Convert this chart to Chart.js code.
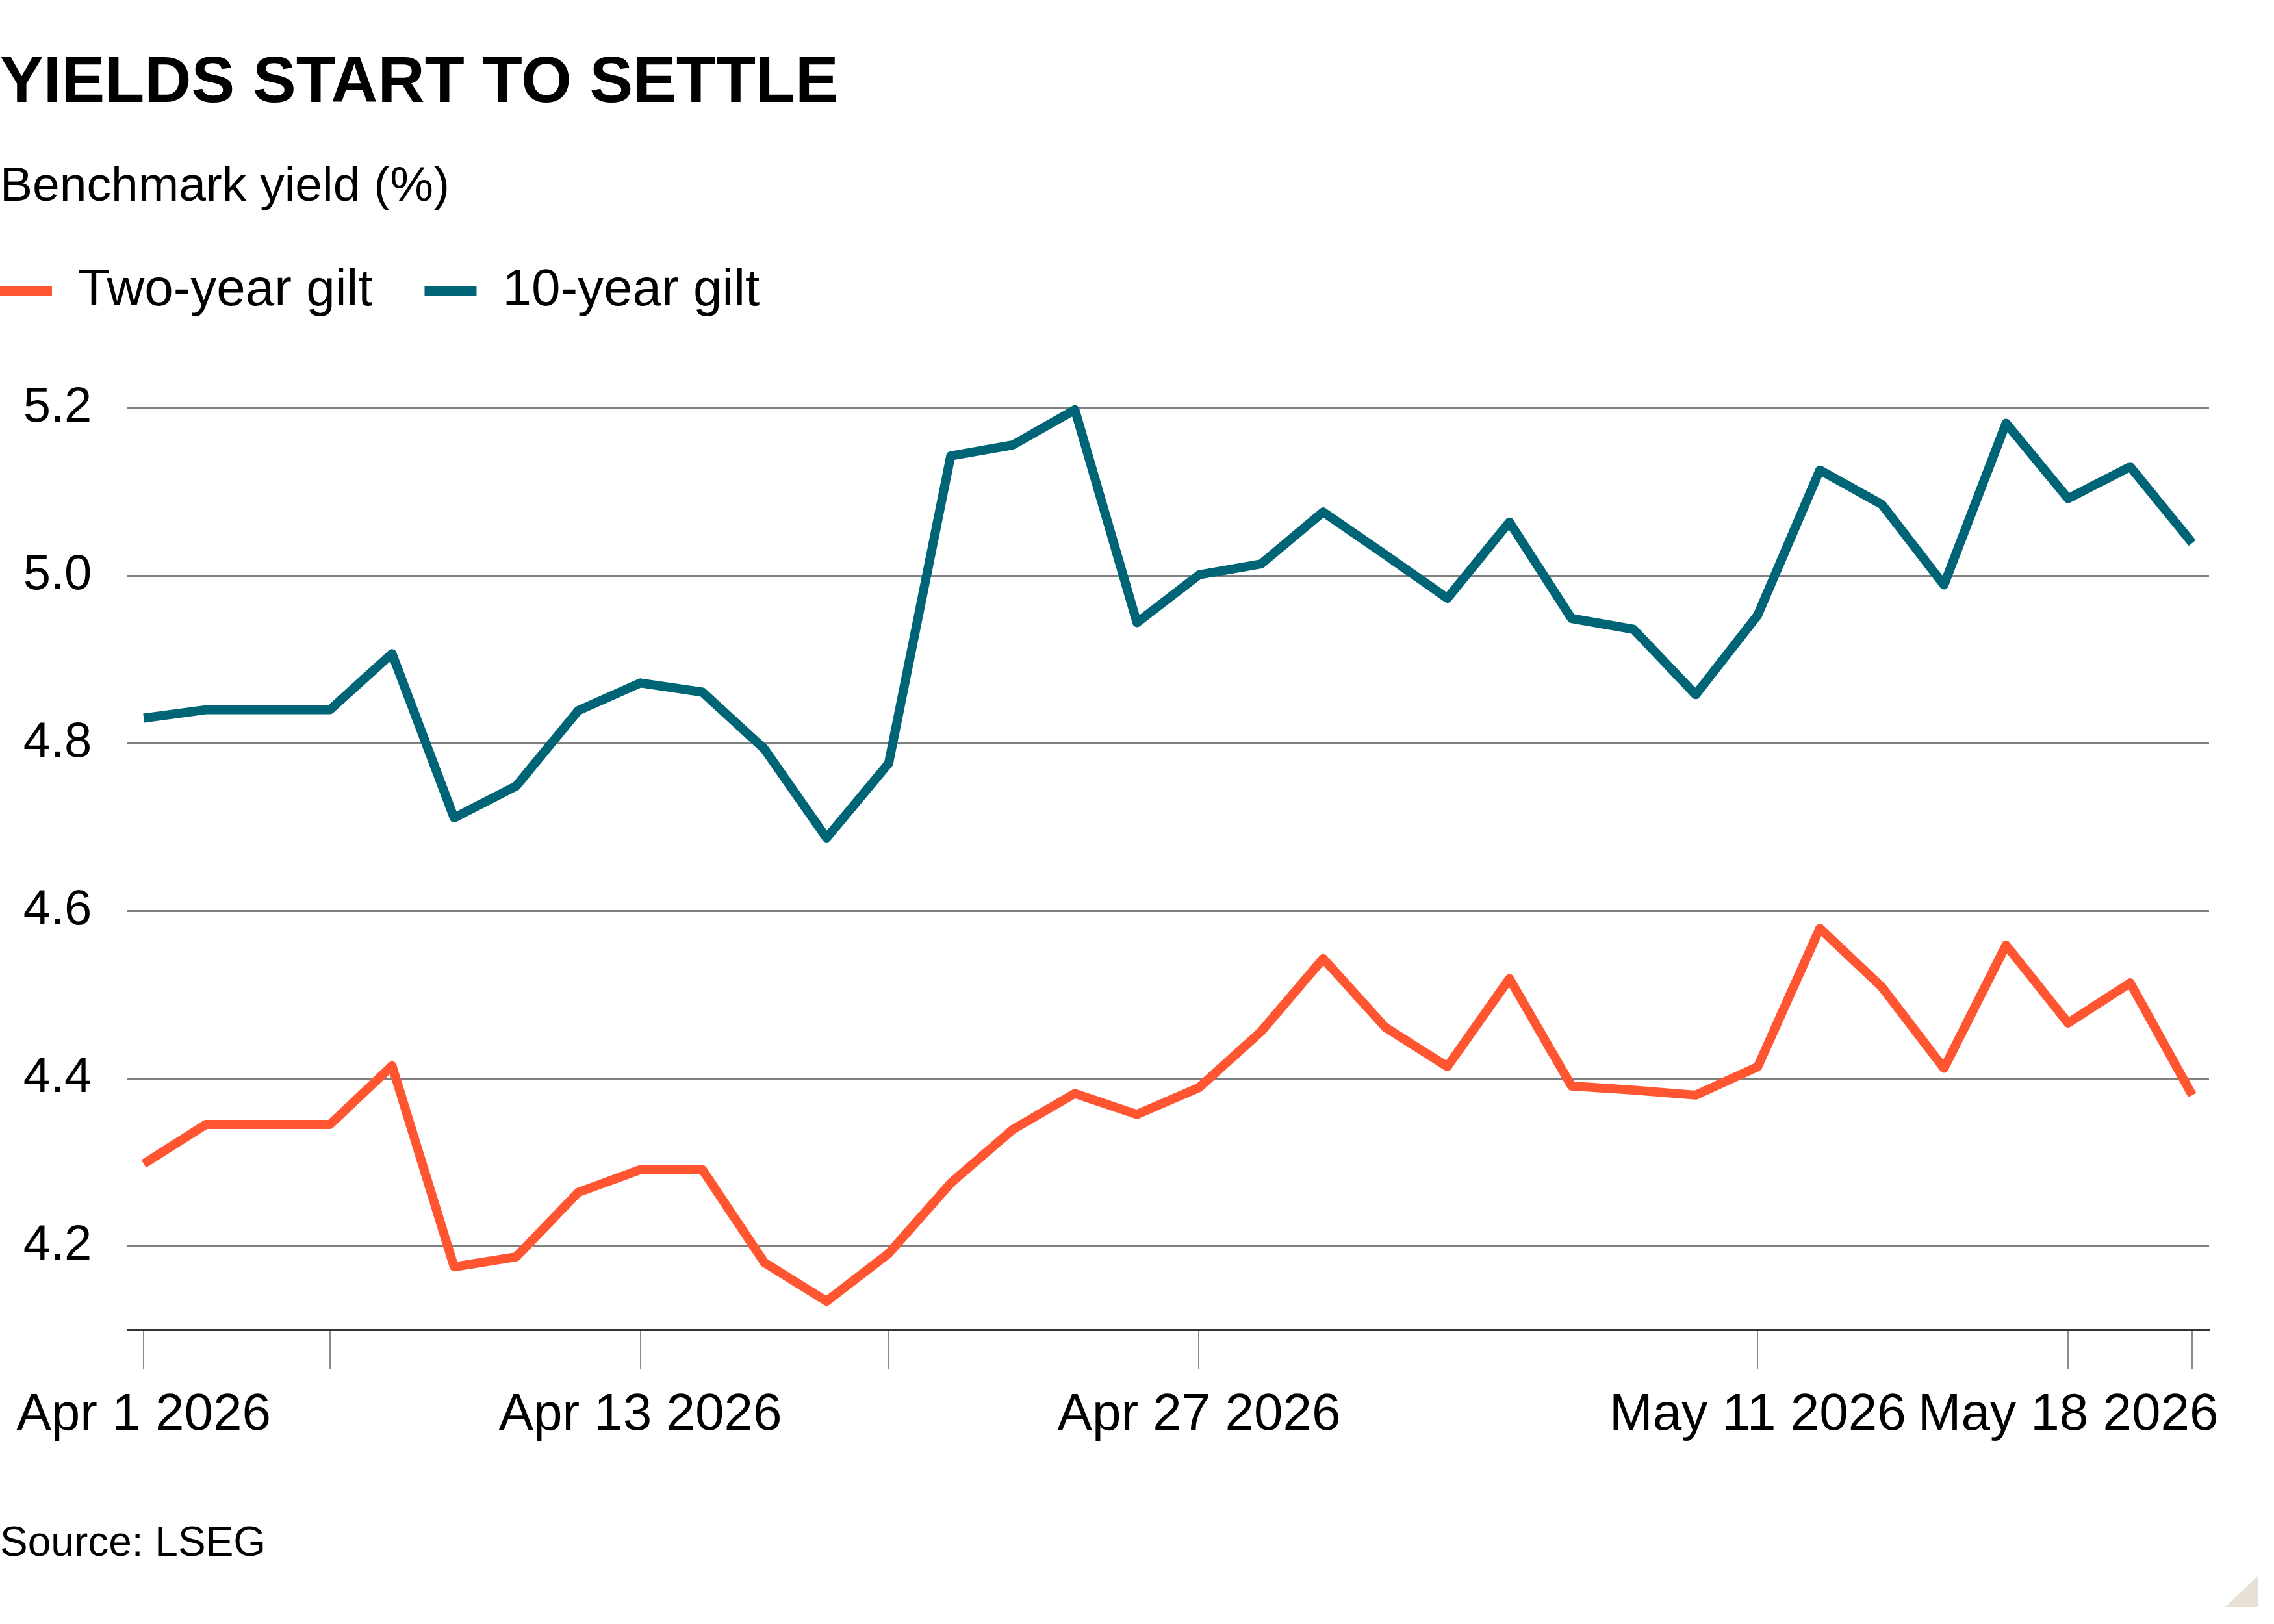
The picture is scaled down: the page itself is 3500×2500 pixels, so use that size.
<!DOCTYPE html>
<html>
<head>
<meta charset="utf-8">
<title>Yields start to settle</title>
<script src="https://cdn.jsdelivr.net/npm/chart.js@4.4.1/dist/chart.umd.min.js"></script>
<style>
  html, body { margin: 0; padding: 0; background: #fff; }
  #wrap { position: relative; width: 3500px; height: 2500px; }
  #source {
    position: absolute; left: 0; top: 2341px;
    font-family: "Liberation Sans", Arial, sans-serif; font-size: 64px; line-height: 1; color: #000;
  }
  #corner {
    position: absolute; left: 3425px; top: 2426px; width: 50px; height: 48px;
    background: #e8dfd5; clip-path: polygon(0 100%, 100% 100%, 100% 0);
  }
</style>
</head>
<body>
<div id="wrap">
  <canvas id="chartYields"></canvas>
  <div id="source">Source: LSEG</div>
  <div id="corner"></div>
</div>
<script>
// trading days shown on the x axis
const dates = [
  "Apr 1 2026", "Apr 2 2026", "Apr 3 2026", "Apr 6 2026", "Apr 7 2026", "Apr 8 2026",
  "Apr 9 2026", "Apr 10 2026", "Apr 13 2026", "Apr 14 2026", "Apr 15 2026", "Apr 16 2026",
  "Apr 20 2026", "Apr 21 2026", "Apr 22 2026", "Apr 23 2026", "Apr 24 2026", "Apr 27 2026",
  "Apr 28 2026", "Apr 29 2026", "Apr 30 2026", "May 1 2026", "May 5 2026", "May 6 2026",
  "May 7 2026", "May 8 2026", "May 11 2026", "May 12 2026", "May 13 2026", "May 14 2026",
  "May 15 2026", "May 18 2026", "May 19 2026", "May 20 2026"
];

const twoYear = [
  4.298, 4.345, 4.345, 4.345, 4.415, 4.175, 4.187, 4.264, 4.291, 4.291, 4.180, 4.134,
  4.191, 4.275, 4.339, 4.382, 4.357, 4.389, 4.456, 4.543, 4.461, 4.414, 4.519,
  4.391, 4.386, 4.380, 4.414, 4.579, 4.509, 4.412, 4.559, 4.466, 4.514, 4.380
];

const tenYear = [
  4.830, 4.840, 4.840, 4.840, 4.907, 4.711, 4.749, 4.839, 4.872, 4.861, 4.793, 4.687,
  4.776, 5.143, 5.156, 5.198, 4.944, 5.001, 5.014, 5.076, 5.025, 4.973, 5.064,
  4.949, 4.936, 4.858, 4.953, 5.126, 5.085, 4.989, 5.182, 5.092, 5.130, 5.039
];

// tick marks on the x axis, and the ones that get a label
const tickDates = ["Apr 1 2026", "Apr 6 2026", "Apr 13 2026", "Apr 20 2026", "Apr 27 2026", "May 11 2026", "May 18 2026", "May 20 2026"];
const labelledDates = ["Apr 1 2026", "Apr 13 2026", "Apr 27 2026", "May 11 2026", "May 18 2026"];
const yTicks = [4.2, 4.4, 4.6, 4.8, 5.0, 5.2];

const ORANGE = "#ff5530";
const TEAL = "#006477";

Chart.defaults.font.family = '"Liberation Sans", Arial, sans-serif';
Chart.defaults.color = "#000";

// legend starts flush left like the title
const legendFlushLeft = {
  id: "legendFlushLeft",
  afterLayout(chart) {
    chart.legend.left -= chart.options.plugins.legend.labels.padding;
  }
};

const lineStyle = {
  borderWidth: 14,
  pointRadius: 0,
  tension: 0,
  borderJoinStyle: "round",
  borderCapStyle: "butt"
};

const data = {
  datasets: [
    {
      label: "Two-year gilt",
      data: twoYear.map((v, i) => ({ x: i, y: v })),
      borderColor: ORANGE,
      backgroundColor: ORANGE,
      ...lineStyle
    },
    {
      label: "10-year gilt",
      data: tenYear.map((v, i) => ({ x: i, y: v })),
      borderColor: TEAL,
      backgroundColor: TEAL,
      ...lineStyle
    }
  ]
};

const config = {
  type: "line",
  data: data,
  plugins: [legendFlushLeft],
  options: {
    responsive: true,
    maintainAspectRatio: false,
    devicePixelRatio: 1,
    animation: false,
    layout: { padding: { left: 0, right: 100, top: 0, bottom: 249 } },
    plugins: {
      tooltip: { enabled: false },
      title: {
        display: true,
        text: "YIELDS START TO SETTLE",
        align: "start",
        color: "#000",
        font: { size: 100, weight: "bold", lineHeight: 1 },
        padding: { top: 79, bottom: 0 }
      },
      subtitle: {
        display: true,
        text: "Benchmark yield (%)",
        align: "start",
        color: "#000",
        font: { size: 75, lineHeight: 1 },
        padding: { top: 72, bottom: 2 }
      },
      legend: {
        display: true,
        position: "top",
        align: "start",
        labels: {
          boxWidth: 80,
          boxHeight: 15,
          padding: 80,
          color: "#000",
          font: { size: 80 },
          generateLabels: chart => chart.data.datasets.map((ds, i) => ({
            text: ds.label,
            fillStyle: ds.borderColor,
            strokeStyle: ds.borderColor,
            lineWidth: 0,
            hidden: false,
            datasetIndex: i
          }))
        }
      }
    },
    scales: {
      x: {
        type: "linear",
        min: -0.26,
        max: 33.27,
        afterBuildTicks: axis => {
          axis.ticks = tickDates.map(d => ({ value: dates.indexOf(d) }));
        },
        grid: { drawOnChartArea: false, drawTicks: true, tickLength: 60, color: "#8c8c8c", lineWidth: 2 },
        border: { display: true, color: "#333", width: 3 },
        ticks: {
          autoSkip: false,
          minRotation: 0,
          maxRotation: 0,
          padding: 24,
          color: "#000",
          font: { size: 80 },
          callback: v => (labelledDates.includes(dates[v]) ? dates[v] : "")
        }
      },
      y: {
        min: 4.1,
        max: 5.301,
        afterBuildTicks: axis => {
          axis.ticks = yTicks.map(v => ({ value: v }));
        },
        afterFit: axis => { axis.width = 195; },
        grid: { color: "#808080", lineWidth: 3, drawTicks: false },
        border: { display: false },
        ticks: {
          padding: 55,
          color: "#000",
          font: { size: 76 },
          callback: v => v.toFixed(1)
        }
      }
    }
  }
};

new Chart(document.getElementById("chartYields"), config);
</script>
</body>
</html>
